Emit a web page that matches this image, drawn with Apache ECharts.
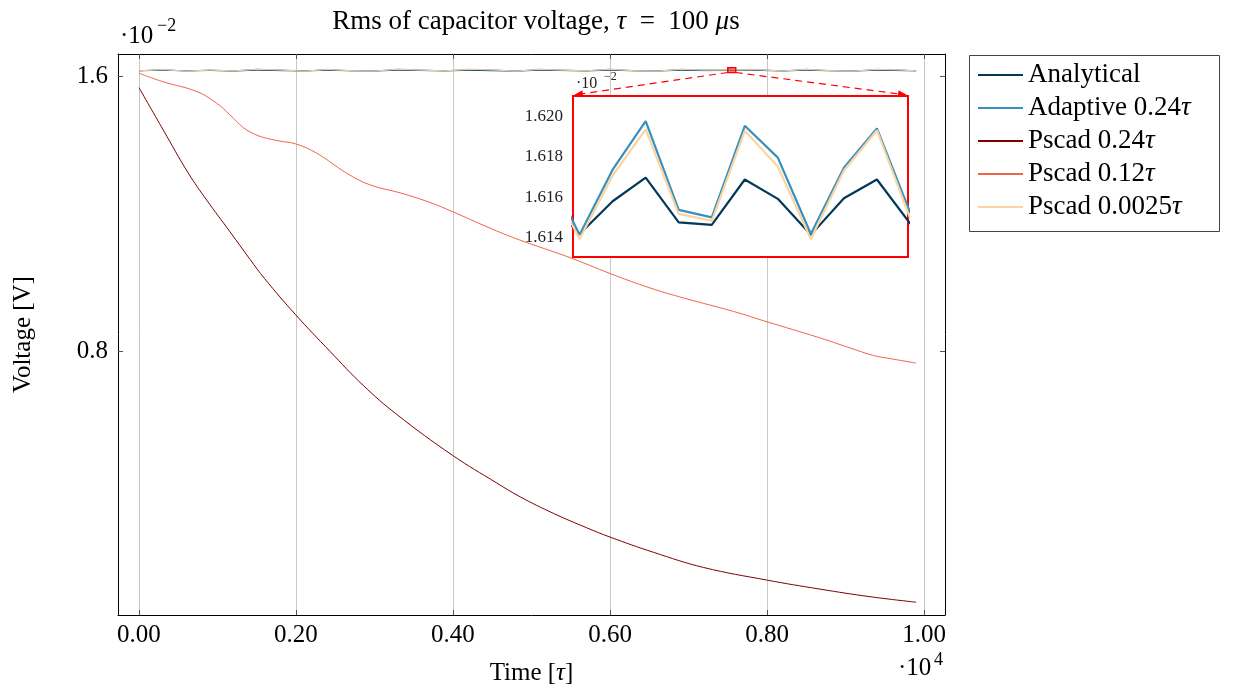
<!DOCTYPE html>
<html><head><meta charset="utf-8">
<script src="https://cdn.jsdelivr.net/npm/echarts@6.0.0/dist/echarts.min.js"></script>
<style>html,body{margin:0;padding:0;background:#fff}#c{width:1234px;height:695px}</style>
</head><body><div id="c"></div><script>
// ---------- data (time in tau, voltage in units of 1e-2 V) ----------
const seriesNames = ['Analytical', 'Adaptive 0.24τ', 'Pscad 0.24τ', 'Pscad 0.12τ', 'Pscad 0.0025τ'];
const xTickValues = [0, 2000, 4000, 6000, 8000, 10000];
const yTickValues = [0.8, 1.6];
const insetTickValues = [1.614, 1.616, 1.618, 1.620];
const insetXRange = [7500, 7601.4];
const insetYRange = [1.61303, 1.62103];

const tBand = [0,300,600,900,1200,1500,1800,2100,2400,2700,3000,3300,3600,3900,4200,4500,4800,5100,5400,5700,6000,6300,6600,6900,7200,
  7492,7502,7512,7522,7532,7542,7552,7562,7572,7582,7592,7602,
  7900,8200,8500,8800,9100,9400,9700,9900];
const vAnalytical = [1.6150,1.6168,1.6147,1.6160,1.6142,1.6169,1.6155,1.6146,1.6166,1.6150,1.6143,1.6168,1.6158,1.6147,1.6165,1.6152,1.6141,1.6167,1.6157,1.6146,1.6169,1.6150,1.6144,1.6166,1.6156,
  1.6159,1.61417,1.6158,1.61697,1.61475,1.61463,1.61688,1.61592,1.61413,1.61595,1.61688,1.6147,
  1.6162,1.6145,1.6168,1.6151,1.6143,1.6167,1.6156,1.6149];
const vAdaptive = [1.6150,1.6190,1.6142,1.6175,1.6148,1.6196,1.6178,1.6141,1.6192,1.6154,1.6145,1.6197,1.6174,1.6150,1.6193,1.6180,1.6141,1.6195,1.6173,1.6152,1.6197,1.6156,1.6143,1.6194,1.6176,
  1.6175,1.61413,1.61737,1.61978,1.61537,1.6150,1.61955,1.61797,1.61417,1.61747,1.61942,1.61525,
  1.6184,1.6146,1.6195,1.6158,1.6142,1.6193,1.6177,1.6150];
const vPscad0025 = [1.6148,1.6186,1.6139,1.6171,1.6146,1.6192,1.6174,1.6139,1.6188,1.6151,1.6142,1.6193,1.6170,1.6148,1.6189,1.6176,1.6139,1.6191,1.6169,1.6150,1.6193,1.6153,1.6140,1.6190,1.6172,
  1.6171,1.61392,1.61708,1.61937,1.61517,1.61483,1.6193,1.61753,1.61392,1.61733,1.61933,1.61498,
  1.6180,1.6143,1.6191,1.6155,1.6140,1.6189,1.6173,1.6148];

const tP24 = [0,310,628,862,1159,1414,1600,1996,2433,2857,3283,3996,4557,4854,5278,5703,6000,6552,7189,8004,8675,9312,9900];
const vP24 = [1.566,1.443,1.318,1.240,1.148,1.068,1.012,0.907,0.801,0.702,0.618,0.499,0.419,0.379,0.331,0.289,0.262,0.218,0.174,0.137,0.111,0.089,0.073];

const tP12 = [0,310,735,990,1160,1330,1456,1580,1796,1996,2264,2646,2943,3325,3707,3997,4446,4850,5478,6010,6510,6934,7570,8010,8633,9057,9354,9567,9900];
const vP12 = [1.608,1.583,1.555,1.521,1.487,1.450,1.433,1.422,1.411,1.403,1.376,1.318,1.284,1.261,1.233,1.206,1.161,1.124,1.074,1.026,0.985,0.956,0.917,0.886,0.843,0.811,0.789,0.780,0.767];

const colors = ['#023858', '#3690c0', '#7f0000', '#ef6548', '#fdd49e'];
// ---------------------------------------------------------------

const FONT = 'Liberation Serif';
const FS = 25;
const LFS = 27;
const zip = (t, v) => t.map((x, i) => [x, v[i]]);
const bandData = [zip(tBand, vAnalytical), zip(tBand, vAdaptive), zip(tP24, vP24), zip(tP12, vP12), zip(tBand, vPscad0025)];

const chart = echarts.init(document.getElementById('c'), null, {renderer: 'canvas'});

const mainSeries = bandData.map((d, i) => ({
  name: seriesNames[i], type: 'line', xAxisIndex: 0, yAxisIndex: 0, data: d,
  showSymbol: false, symbol: 'none',
  smooth: (i === 2 || i === 3) ? 0.4 : false,
  lineStyle: {color: colors[i], width: 1}, itemStyle: {color: colors[i]}, z: 3 + i
}));
const insetSeries = [0, 1, 4].map(i => ({
  name: seriesNames[i], type: 'line', xAxisIndex: 2, yAxisIndex: 2, data: bandData[i],
  showSymbol: false, symbol: 'none', clip: true,
  lineStyle: {color: colors[i], width: 2.2}, itemStyle: {color: colors[i]}, z: 10 + i
}));

const tickStyle = {show: true, inside: true, length: 5, lineStyle: {color: '#555', width: 1}};
const richFor = fs => ({n: {fontFamily: FONT, fontSize: fs, color: '#000'}, i: {fontFamily: FONT, fontSize: fs, fontStyle: 'italic', color: '#000'}});

const option = {
  animation: false,
  backgroundColor: '#fff',
  title: {
    text: '{n|Rms of capacitor voltage, }{i|τ}{n|  =  100 }{i|μ}{n|s}',
    left: 531, top: 3, textAlign: 'center',
    textStyle: {fontFamily: FONT, fontSize: LFS, fontWeight: 'normal', color: '#000', rich: richFor(LFS)}
  },
  legend: {
    data: seriesNames, orient: 'vertical', left: 978, top: 61,
    itemWidth: 45, itemHeight: 2, itemGap: 5, itemTextGap: 7, icon: 'rect', padding: 0,
    formatter: n => n.replace('τ', '{i|τ}'),
    textStyle: {fontFamily: FONT, fontSize: LFS, color: '#000', lineHeight: 28, rich: {i: {fontFamily: FONT, fontSize: LFS, fontStyle: 'italic', color: '#000'}}}
  },
  grid: [
    {left: 118, top: 54, width: 827, height: 561, show: false},
    {left: 573, top: 96, width: 335, height: 161, show: true, backgroundColor: '#fff', borderColor: '#ff0000', borderWidth: 2, z: 5}
  ],
  xAxis: [
    {type: 'value', gridIndex: 0, min: -267.5, max: 10267.5, position: 'bottom',
      name: '{n|Time [}{i|τ}{n|]}', nameLocation: 'middle', nameGap: 46,
      nameTextStyle: {fontFamily: FONT, fontSize: FS, color: '#000', rich: richFor(FS)},
      axisLine: {show: true, onZero: false, lineStyle: {color: '#000', width: 1}},
      axisTick: Object.assign({customValues: xTickValues}, tickStyle),
      axisLabel: {customValues: xTickValues, formatter: v => (v / 10000).toFixed(2), fontFamily: FONT, fontSize: FS, color: '#000', margin: 8},
      splitLine: {show: true, lineStyle: {color: '#c8c8c8', width: 1}}},
    {type: 'value', gridIndex: 0, min: -267.5, max: 10267.5, position: 'top',
      axisLine: {show: true, onZero: false, lineStyle: {color: '#000', width: 1}},
      axisTick: Object.assign({customValues: xTickValues}, tickStyle),
      axisLabel: {show: false}, splitLine: {show: false}},
    {type: 'value', gridIndex: 1, min: insetXRange[0], max: insetXRange[1],
      axisLine: {show: false}, axisTick: {show: false}, axisLabel: {show: false}, splitLine: {show: false}}
  ],
  yAxis: [
    {type: 'value', gridIndex: 0, min: 0.0359, max: 1.6638, position: 'left',
      name: 'Voltage [V]', nameLocation: 'middle', nameGap: 82, nameRotate: 90,
      nameTextStyle: {fontFamily: FONT, fontSize: FS, color: '#000'},
      axisLine: {show: true, onZero: false, lineStyle: {color: '#000', width: 1}},
      axisTick: Object.assign({customValues: yTickValues}, tickStyle),
      axisLabel: {customValues: yTickValues, formatter: v => v.toFixed(1), fontFamily: FONT, fontSize: FS, color: '#000', margin: 10},
      splitLine: {show: false}},
    {type: 'value', gridIndex: 0, min: 0.0359, max: 1.6638, position: 'right',
      axisLine: {show: true, onZero: false, lineStyle: {color: '#000', width: 1}},
      axisTick: Object.assign({customValues: yTickValues}, tickStyle),
      axisLabel: {show: false}, splitLine: {show: false}},
    {type: 'value', gridIndex: 1, min: insetYRange[0], max: insetYRange[1], position: 'left',
      axisLine: {show: false},
      axisTick: {show: true, inside: true, length: 5, customValues: insetTickValues, lineStyle: {color: '#999'}},
      axisLabel: {customValues: insetTickValues, formatter: v => v.toFixed(3), fontFamily: FONT, fontSize: 17, color: '#222', margin: 10},
      splitLine: {show: false}},
    {type: 'value', gridIndex: 1, min: insetYRange[0], max: insetYRange[1], position: 'right',
      axisLine: {show: false},
      axisTick: {show: true, inside: true, length: 5, customValues: insetTickValues, lineStyle: {color: '#999'}},
      axisLabel: {show: false}, splitLine: {show: false}}
  ],
  series: mainSeries.concat(insetSeries)
};
chart.setOption(option);

// overlays positioned through the chart's own coordinate conversion
const px = (xi, yi, p) => chart.convertToPixel({xAxisIndex: xi, yAxisIndex: yi}, p);
const a = px(0, 0, [insetXRange[0], insetYRange[1]]);
const b = px(0, 0, [insetXRange[1], insetYRange[0]]);
const L = px(2, 2, [insetXRange[0], insetYRange[1]]);
const R = px(2, 2, [insetXRange[1], insetYRange[1]]);

function arrow(p1, p2, id) {
  const dx = p2[0] - p1[0], dy = p2[1] - p1[1];
  const len = Math.hypot(dx, dy), ux = dx / len, uy = dy / len, nx = -uy, ny = ux;
  const hl = 9, hw = 3.5;
  const base = [p2[0] - ux * hl, p2[1] - uy * hl];
  return [
    {type: 'line', id: id + 'l', z: 50, shape: {x1: p1[0], y1: p1[1], x2: base[0], y2: base[1]},
      style: {stroke: '#ff0000', lineWidth: 1.2, lineDash: [7, 5]}},
    {type: 'polygon', id: id + 'h', z: 50, shape: {points: [p2, [base[0] + nx * hw, base[1] + ny * hw], [base[0] - nx * hw, base[1] - ny * hw]]},
      style: {fill: '#ff0000'}}
  ];
}

const graphics = [
  {type: 'rect', id: 'zoomrect', z: 50, shape: {x: a[0], y: a[1] - 1, width: b[0] - a[0], height: b[1] - a[1] + 2},
    style: {fill: 'rgba(255,0,0,0.35)', stroke: '#ff0000', lineWidth: 1.5}},
  ...arrow([a[0], b[1] + 1], [L[0] + 1, L[1] - 1], 'al'),
  ...arrow([b[0], b[1] + 1], [R[0] - 1, R[1] - 1], 'ar'),
  {type: 'text', id: 'iexp', z: 50, x: L[0] + 3, y: L[1] - 20,
    style: {text: '·10', font: '16px "Liberation Serif"', fill: '#222'}},
  {type: 'text', id: 'iexp2', z: 50, x: L[0] + 31, y: L[1] - 25,
    style: {text: '−2', font: '12px "Liberation Serif"', fill: '#222'}},
  {type: 'text', id: 'mexp', z: 50, x: 120, y: 24,
    style: {text: '·10', font: FS + 'px "Liberation Serif"', fill: '#000'}},
  {type: 'text', id: 'mexp2', z: 50, x: 157, y: 17,
    style: {text: '−2', font: '18px "Liberation Serif"', fill: '#000'}},
  {type: 'text', id: 'xexp', z: 50, x: 898, y: 656,
    style: {text: '·10', font: FS + 'px "Liberation Serif"', fill: '#000'}},
  {type: 'text', id: 'xexp2', z: 50, x: 934, y: 651,
    style: {text: '4', font: '18px "Liberation Serif"', fill: '#000'}},
  {type: 'rect', id: 'legbox', z: 50, shape: {x: 969.5, y: 55.5, width: 250, height: 176},
    style: {fill: 'none', stroke: '#444', lineWidth: 1}}
];
chart.setOption({graphic: graphics});
</script></body></html>
